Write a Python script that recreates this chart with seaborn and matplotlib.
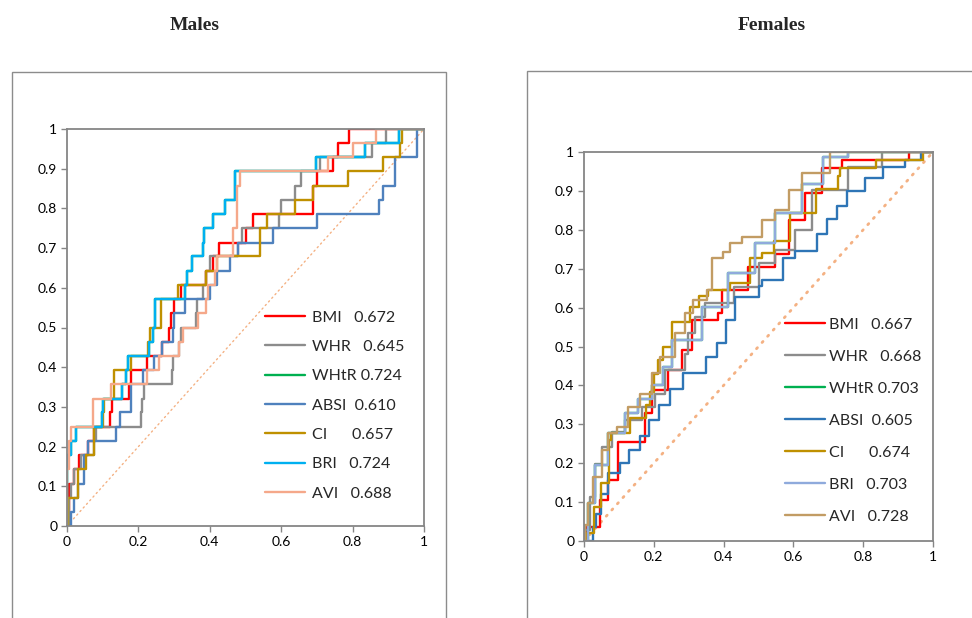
import numpy as np
import pandas as pd
import matplotlib
matplotlib.use("Agg")
import matplotlib.pyplot as plt
from matplotlib.lines import Line2D
from matplotlib.patches import Rectangle
import seaborn as sns

# ---------------- data ----------------
series = ["BMI", "WHR", "WHtR", "ABSI", "CI", "BRI", "AVI"]

male_auc = ["0.672", "0.645", "0.724", "0.610", "0.657", "0.724", "0.688"]
female_auc = ["0.667", "0.668", "0.703", "0.605", "0.674", "0.703", "0.728"]

# Males ROC points (fpr at which the curve rises, tpr after the rise)
m_bmi_fpr = [0, 0.005, 0.02, 0.035, 0.06, 0.075, 0.12, 0.125, 0.175, 0.18, 0.225, 0.265, 0.285, 0.29, 0.30, 0.32, 0.39, 0.41, 0.425, 0.50, 0.52, 0.69, 0.70, 0.745, 0.76, 0.79, 1.0]
m_bmi_tpr = [0, 0.107, 0.143, 0.179, 0.214, 0.25, 0.286, 0.321, 0.357, 0.393, 0.429, 0.464, 0.5, 0.536, 0.571, 0.607, 0.643, 0.679, 0.714, 0.75, 0.786, 0.857, 0.893, 0.929, 0.964, 1.0, 1.0]
m_whr_fpr = [0, 0.005, 0.01, 0.02, 0.04, 0.075, 0.08, 0.207, 0.21, 0.215, 0.295, 0.297, 0.315, 0.32, 0.36, 0.365, 0.38, 0.39, 0.40, 0.48, 0.49, 0.595, 0.60, 0.64, 0.655, 0.71, 0.855, 0.893, 1.0]
m_whr_tpr = [0, 0.071, 0.107, 0.143, 0.179, 0.214, 0.25, 0.286, 0.321, 0.357, 0.393, 0.429, 0.464, 0.5, 0.536, 0.571, 0.607, 0.643, 0.679, 0.714, 0.75, 0.786, 0.821, 0.857, 0.893, 0.929, 0.964, 1.0, 1.0]
m_whtr_fpr = [0, 0.0, 0.01, 0.025, 0.098, 0.10, 0.155, 0.165, 0.17, 0.23, 0.24, 0.246, 0.33, 0.335, 0.35, 0.382, 0.385, 0.41, 0.443, 0.47, 0.697, 0.835, 0.93, 1.0]
m_whtr_tpr = [0, 0.179, 0.214, 0.25, 0.286, 0.321, 0.357, 0.393, 0.429, 0.464, 0.5, 0.571, 0.607, 0.643, 0.679, 0.714, 0.75, 0.786, 0.821, 0.893, 0.929, 0.964, 1.0, 1.0]
m_absi_fpr = [0, 0.011, 0.019, 0.03, 0.049, 0.058, 0.137, 0.149, 0.178, 0.18, 0.212, 0.245, 0.265, 0.296, 0.30, 0.33, 0.40, 0.42, 0.456, 0.48, 0.578, 0.70, 0.873, 0.885, 0.92, 0.98, 1.0]
m_absi_tpr = [0, 0.036, 0.071, 0.107, 0.179, 0.214, 0.25, 0.286, 0.321, 0.357, 0.393, 0.429, 0.464, 0.5, 0.536, 0.571, 0.607, 0.643, 0.679, 0.714, 0.75, 0.786, 0.821, 0.857, 0.929, 1.0, 1.0]
m_ci_fpr = [0, 0.004, 0.032, 0.053, 0.077, 0.10, 0.105, 0.133, 0.18, 0.228, 0.232, 0.263, 0.312, 0.389, 0.419, 0.54, 0.559, 0.638, 0.69, 0.788, 0.886, 0.933, 0.937, 1.0]
m_ci_tpr = [0, 0.071, 0.143, 0.179, 0.25, 0.286, 0.321, 0.393, 0.429, 0.464, 0.5, 0.571, 0.607, 0.643, 0.679, 0.75, 0.786, 0.821, 0.857, 0.893, 0.929, 0.964, 1.0, 1.0]
m_bri_fpr = [0, 0.0, 0.01, 0.025, 0.098, 0.10, 0.155, 0.165, 0.17, 0.23, 0.24, 0.246, 0.33, 0.335, 0.35, 0.382, 0.385, 0.41, 0.443, 0.47, 0.697, 0.835, 0.93, 1.0]
m_bri_tpr = [0, 0.179, 0.214, 0.25, 0.286, 0.321, 0.357, 0.393, 0.429, 0.464, 0.5, 0.571, 0.607, 0.643, 0.679, 0.714, 0.75, 0.786, 0.821, 0.893, 0.929, 0.964, 1.0, 1.0]
m_avi_fpr = [0, 0.0, 0.007, 0.011, 0.072, 0.123, 0.224, 0.259, 0.315, 0.324, 0.366, 0.39, 0.396, 0.415, 0.419, 0.466, 0.475, 0.485, 0.732, 0.80, 0.865, 1.0]
m_avi_tpr = [0, 0.143, 0.214, 0.25, 0.321, 0.357, 0.393, 0.429, 0.464, 0.5, 0.536, 0.571, 0.607, 0.643, 0.679, 0.75, 0.857, 0.893, 0.929, 0.964, 1.0, 1.0]

# Females ROC points
f_bmi_fpr = [0, 0.008, 0.046, 0.070, 0.098, 0.175, 0.194, 0.242, 0.280, 0.309, 0.385, 0.395, 0.471, 0.547, 0.586, 0.633, 0.681, 0.738, 0.930, 1.0]
f_bmi_tpr = [0, 0.037, 0.105, 0.157, 0.255, 0.328, 0.388, 0.439, 0.491, 0.568, 0.585, 0.645, 0.705, 0.739, 0.825, 0.894, 0.958, 0.979, 1.0, 1.0]
f_whr_fpr = [0, 0.003, 0.017, 0.032, 0.051, 0.079, 0.117, 0.165, 0.203, 0.232, 0.289, 0.299, 0.318, 0.347, 0.430, 0.500, 0.547, 0.605, 0.652, 0.757, 0.853, 1.0]
f_whr_tpr = [0, 0.028, 0.114, 0.199, 0.242, 0.281, 0.311, 0.345, 0.379, 0.439, 0.482, 0.534, 0.577, 0.611, 0.654, 0.714, 0.748, 0.799, 0.902, 0.962, 1.0, 1.0]
f_whtr_fpr = [0, 0.012, 0.032, 0.070, 0.117, 0.156, 0.194, 0.227, 0.251, 0.337, 0.414, 0.490, 0.547, 0.624, 0.686, 0.757, 1.0]
f_whtr_tpr = [0, 0.097, 0.195, 0.277, 0.328, 0.366, 0.401, 0.448, 0.517, 0.602, 0.688, 0.765, 0.842, 0.919, 0.988, 1.0, 1.0]
f_absi_fpr = [0, 0.026, 0.035, 0.050, 0.069, 0.102, 0.130, 0.160, 0.185, 0.215, 0.245, 0.284, 0.351, 0.380, 0.408, 0.433, 0.500, 0.509, 0.571, 0.605, 0.667, 0.695, 0.724, 0.753, 0.805, 0.858, 0.920, 0.967, 1.0]
f_absi_tpr = [0, 0.037, 0.070, 0.120, 0.175, 0.200, 0.235, 0.270, 0.310, 0.350, 0.390, 0.431, 0.474, 0.508, 0.568, 0.628, 0.655, 0.672, 0.728, 0.745, 0.788, 0.827, 0.860, 0.900, 0.934, 0.962, 0.980, 1.0, 1.0]
f_ci_fpr = [0, 0.008, 0.030, 0.050, 0.073, 0.078, 0.131, 0.178, 0.188, 0.200, 0.212, 0.225, 0.251, 0.304, 0.330, 0.356, 0.418, 0.476, 0.509, 0.543, 0.590, 0.665, 0.729, 0.733, 0.838, 0.972, 1.0]
f_ci_tpr = [0, 0.020, 0.088, 0.150, 0.259, 0.277, 0.315, 0.350, 0.383, 0.430, 0.465, 0.500, 0.564, 0.602, 0.630, 0.645, 0.662, 0.728, 0.740, 0.770, 0.844, 0.904, 0.938, 0.960, 0.980, 1.0, 1.0]
f_bri_fpr = [0, 0.012, 0.032, 0.070, 0.117, 0.156, 0.194, 0.227, 0.251, 0.337, 0.414, 0.490, 0.547, 0.624, 0.686, 0.757, 1.0]
f_bri_tpr = [0, 0.097, 0.195, 0.277, 0.328, 0.366, 0.401, 0.448, 0.517, 0.602, 0.688, 0.765, 0.842, 0.919, 0.988, 1.0, 1.0]
f_avi_fpr = [0, 0.003, 0.012, 0.027, 0.051, 0.070, 0.094, 0.127, 0.161, 0.194, 0.218, 0.261, 0.289, 0.313, 0.352, 0.366, 0.399, 0.418, 0.452, 0.509, 0.547, 0.586, 0.624, 0.705, 1.0]
f_avi_tpr = [0, 0.040, 0.097, 0.165, 0.234, 0.277, 0.294, 0.345, 0.379, 0.431, 0.474, 0.534, 0.585, 0.620, 0.645, 0.727, 0.744, 0.765, 0.782, 0.825, 0.851, 0.902, 0.945, 1.0, 1.0]

chance = [0, 1]

y_ticks = [0, 0.1, 0.2, 0.3, 0.4, 0.5, 0.6, 0.7, 0.8, 0.9, 1]
y_tick_labels = ["0", "0.1", "0.2", "0.3", "0.4", "0.5", "0.6", "0.7", "0.8", "0.9", "1"]
x_ticks = [0, 0.2, 0.4, 0.6, 0.8, 1]
x_tick_labels = ["0", "0.2", "0.4", "0.6", "0.8", "1"]

male_colors = ["#FF0000", "#8C8C8C", "#00B050", "#4F81BD", "#BF9000", "#00B0F0", "#F5A88A"]
female_colors = ["#FF0000", "#8C8C8C", "#00B050", "#2E75B6", "#BF9000", "#8FAADC", "#C29C64"]

male_pts = [(m_bmi_fpr, m_bmi_tpr), (m_whr_fpr, m_whr_tpr), (m_whtr_fpr, m_whtr_tpr),
            (m_absi_fpr, m_absi_tpr), (m_ci_fpr, m_ci_tpr), (m_bri_fpr, m_bri_tpr),
            (m_avi_fpr, m_avi_tpr)]
female_pts = [(f_bmi_fpr, f_bmi_tpr), (f_whr_fpr, f_whr_tpr), (f_whtr_fpr, f_whtr_tpr),
              (f_absi_fpr, f_absi_tpr), (f_ci_fpr, f_ci_tpr), (f_bri_fpr, f_bri_tpr),
              (f_avi_fpr, f_avi_tpr)]


def make_df(pts):
    rows = []
    for name, (fx, ty) in zip(series, pts):
        for i, (a, b) in enumerate(zip(fx, ty)):
            rows.append({"series": name, "order": i, "fpr": a, "tpr": b})
    return pd.DataFrame(rows)


# ---------------- style ----------------
sns.set_style("white")
plt.rcParams["font.family"] = ["Lato", "DejaVu Sans"]

W, H = 972, 618
fig = plt.figure(figsize=(W / 100, H / 100), dpi=100)
fig.patch.set_facecolor("white")

spine_col = "#868686"


def px_ax(x0, x1, ytop, ybot):
    return fig.add_axes([x0 / W, 1 - ybot / H, (x1 - x0) / W, (ybot - ytop) / H])


def draw_panel(ax, pts, colors, aucs, leg_anchor, leg_spacing, text_pad, chance_lw, chance_ls):
    df = make_df(pts)
    sns.lineplot(x=chance, y=chance, ax=ax, color="#F4B183", linewidth=chance_lw,
                 linestyle=chance_ls, dash_capstyle="round", legend=False)
    sns.lineplot(data=df, x="fpr", y="tpr", hue="series", hue_order=series,
                 palette=colors, estimator=None, sort=False, units="series",
                 drawstyle="steps-post", linewidth=1.7, legend=False, ax=ax)
    ax.set_xlim(0, 1)
    ax.set_ylim(0, 1)
    ax.set_xlabel("")
    ax.set_ylabel("")
    ax.set_xticks(x_ticks)
    ax.set_xticklabels(x_tick_labels)
    ax.set_yticks(y_ticks)
    ax.set_yticklabels(y_tick_labels)
    for s in ax.spines.values():
        s.set_visible(True)
        s.set_color(spine_col)
        s.set_linewidth(1.3)
    ax.tick_params(axis="both", which="both", direction="out", length=4, width=1,
                   color=spine_col, labelsize=10, labelcolor="#000000",
                   bottom=True, left=True, top=False, right=False, pad=3)
    handles = [Line2D([], [], color=c, linewidth=1.7) for c in colors]
    spaces = {"BMI": "   ", "WHR": "   ", "WHtR": " ", "ABSI": "  ", "CI": "      ",
              "BRI": "   ", "AVI": "   "}
    labels = [f"{n}{spaces[n]}{a}" for n, a in zip(series, aucs)]
    ax.legend(handles, labels, loc="upper left", bbox_to_anchor=leg_anchor,
              frameon=False, fontsize=11.5, handlelength=2.5, handletextpad=text_pad,
              labelspacing=leg_spacing, borderpad=0, borderaxespad=0)


ax_m = px_ax(67, 424, 129, 526)
draw_panel(ax_m, male_pts, male_colors, male_auc, (0.555, 0.543), 0.95, 0.45,
           1.0, (0, (1, 2.5)))

ax_f = px_ax(584, 933, 152, 541)
draw_panel(ax_f, female_pts, female_colors, female_auc, (0.576, 0.575), 1.12, 0.25,
           2.0, (0, (0.5, 2.5)))

# panel frames
fig.add_artist(Rectangle((12 / W, -0.02), (446 - 12) / W, 1.02 - 72 / H,
                         transform=fig.transFigure, fill=False,
                         edgecolor="#8C8C8C", linewidth=1.0))
fig.add_artist(Rectangle((527 / W, -0.02), 0.5, 1.02 - 71 / H,
                         transform=fig.transFigure, fill=False,
                         edgecolor="#8C8C8C", linewidth=1.0))

# titles
fig.text(195 / W, 1 - 25 / H, "Males", ha="center", va="center",
         family=["Liberation Serif", "DejaVu Serif"], fontweight="bold", fontsize=14)
fig.text(772 / W, 1 - 25 / H, "Females", ha="center", va="center",
         family=["Liberation Serif", "DejaVu Serif"], fontweight="bold", fontsize=14)

fig.savefig("out.png", dpi=100, facecolor="white")
